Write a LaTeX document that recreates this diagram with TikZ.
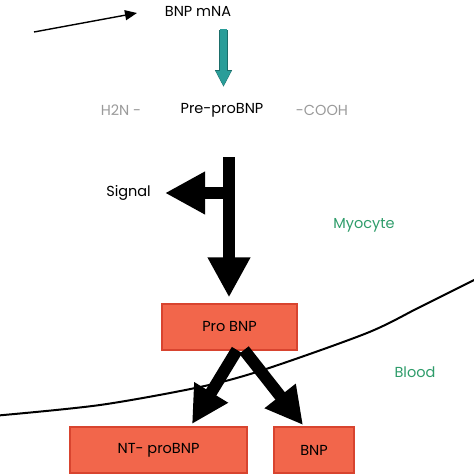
\documentclass[tikz,border=0pt]{standalone}
\usepackage{fontspec}
\setmainfont{Poppins}
\usetikzlibrary{arrows.meta}
\definecolor{boxfill}{HTML}{F2664B}
\definecolor{boxedge}{HTML}{D8442F}
\definecolor{tealc}{HTML}{2A9D99}
\definecolor{tealedge}{HTML}{1B6E6A}
\definecolor{graytxt}{HTML}{9A9A9A}
\definecolor{greentxt}{HTML}{2E9C6A}
\tikzset{
  lbl/.style={inner sep=0pt, font=\fontsize{14.5}{16}\selectfont},
  box/.style={draw=boxedge, fill=boxfill, line width=1.2pt, inner sep=0pt, font=\fontsize{14.5}{16}\selectfont},
  bigarrow/.style={line width=12pt, -{Triangle[width=40pt,length=40pt]}},
  midarrow/.style={line width=12pt, -{Triangle[width=37pt,length=37pt]}},
  thinarrow/.style={line width=1.4pt, -{Triangle[width=10pt,length=12pt]}},
  tealarrow/.style={line width=7pt, tealc, -{Triangle[width=14pt,length=15pt]}}
}
\begin{document}
\begin{tikzpicture}[x=1pt,y=-1pt]
\useasboundingbox (0,0) rectangle (474,474);
% membrane curve
\draw[line width=2pt] plot[smooth] coordinates {(-2,415.5) (100,405) (200,387) (263,370) (367,333) (420,307) (476,279)};
% texts
\node[lbl] (mna) at (198,11) {BNP mNA};
\node[lbl, text=graytxt] (h2n) at (121,110) {H2N -};
\node[lbl] (pre) at (222,110) {Pre-proBNP};
\node[lbl, text=graytxt] (cooh) at (322,110) {-COOH};
\node[lbl, anchor=east] (signal) at (151,193) {Signal};
\node[lbl, text=greentxt] (myo) at (364,225) {Myocyte};
\node[lbl, text=greentxt] (blood) at (415,372) {Blood};
% boxes
\node[box, minimum width=135pt, minimum height=46pt] (pro) at (229.5,327) {Pro BNP};
\node[box, minimum width=177pt, minimum height=46pt] (nt) at (158.5,450) {NT- proBNP};
\node[box, minimum width=80pt, minimum height=46pt] (bnp) at (314,450) {BNP};
% thin arrow
\coordinate (src) at (34,32);
\coordinate (srcend) at (137,13);
\draw[thinarrow] (src) -- (srcend);
% teal arrow
\coordinate (t0) at (223.5,30);
\coordinate (t1) at (223.5,87);
\draw[line width=8.5pt, tealedge, -{Triangle[width=16pt,length=17pt]}] (t0) -- (t1);
\draw[tealarrow, shorten >=1pt] ([yshift=0.8pt]t0) -- (t1);
% big arrows
\coordinate (vtop) at (229,157);
\coordinate (vmid) at (229,193);
\draw[bigarrow, shorten >=6pt] (vtop) -- (pro.north -| vtop);
\draw[bigarrow, shorten >=14pt] (vmid) -- (signal.east);
\coordinate (sL) at (237,350);
\coordinate (sR) at (244,350);
\coordinate (tL) at (192,424);
\coordinate (tR) at (303,425);
\draw[midarrow] (sL) -- (tL);
\draw[midarrow] (sR) -- (tR);
\end{tikzpicture}
\end{document}
